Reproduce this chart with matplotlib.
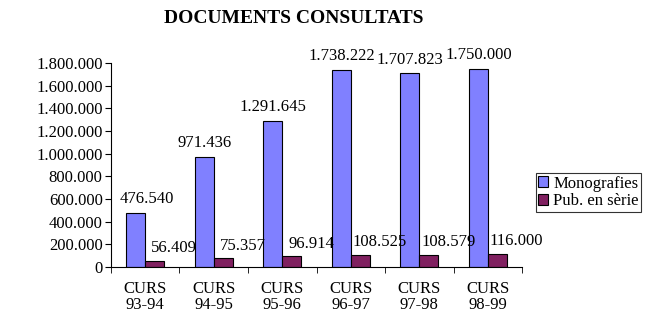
import matplotlib.pyplot as plt
import numpy as np
from matplotlib.ticker import FuncFormatter

cursos = ['CURS\n93-94', 'CURS\n94-95', 'CURS\n95-96', 'CURS\n96-97', 'CURS\n97-98', 'CURS\n98-99']
monografies = [476540, 971436, 1291645, 1738222, 1707823, 1750000]
pub_serie = [56409, 75357, 96914, 108525, 108579, 116000]

plt.rcParams['font.family'] = ['Liberation Serif', 'DejaVu Serif']

def punts(v):
    return '{:,}'.format(int(v)).replace(',', '.')

fig = plt.figure(figsize=(6.63, 3.22), dpi=100)
ax = fig.add_axes([0.1674, 0.1708, 0.62, 0.6335])

x = np.arange(len(cursos))
w = 0.275
ax.bar(x - w / 2, monografies, w, color='#8080FF', edgecolor='black', linewidth=0.8, label='Monografies')
ax.bar(x + w / 2, pub_serie, w, color='#802060', edgecolor='black', linewidth=0.8, label='Pub. en sèrie')

# etiquetes de valor (la primera es desplaça per no tocar l'eix)
for i in range(len(x)):
    dx = 8 if i == 0 else 0
    ax.annotate(punts(monografies[i]), (x[i] - w / 2, monografies[i]), xytext=(dx, 10),
                textcoords='offset points', ha='center', va='center', fontsize=12)
    ax.annotate(punts(pub_serie[i]), (x[i] + w / 2, pub_serie[i]), xytext=(14, 9),
                textcoords='offset points', ha='center', va='center', fontsize=12)

ax.set_xlim(-0.5, len(cursos) - 0.5)
ax.set_ylim(0, 1800000)
ax.set_yticks(np.arange(0, 1800001, 200000))
ax.yaxis.set_major_formatter(FuncFormatter(lambda v, p: punts(v)))
ax.set_xticks(x)
ax.set_xticklabels(cursos, fontsize=12, linespacing=1.0)
ax.set_xticks(np.arange(-0.5, len(cursos)), minor=True)
ax.tick_params(axis='x', which='major', length=0, pad=10)
ax.tick_params(axis='x', which='minor', length=4, direction='out')
ax.tick_params(axis='y', length=4, labelsize=12, pad=2)
ax.spines['top'].set_visible(False)
ax.spines['right'].set_visible(False)

fig.text(0.4434, 0.944, 'DOCUMENTS CONSULTATS', ha='center', va='center',
         fontsize=14, fontweight='bold')

leg = fig.legend(loc='upper left', bbox_to_anchor=(0.8084, 0.4627), fontsize=12,
                 frameon=True, fancybox=False, edgecolor='black', handlelength=0.6,
                 handleheight=0.6, handletextpad=0.3, borderpad=0.15, labelspacing=0.1,
                 borderaxespad=0)
leg.get_frame().set_linewidth(0.8)

fig.savefig('out.png', dpi=100)
